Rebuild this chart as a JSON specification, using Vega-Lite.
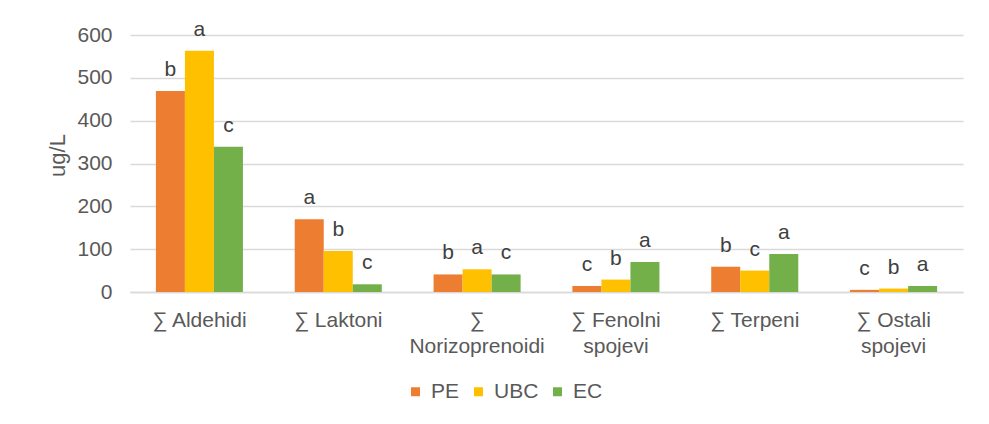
{
  "$schema": "https://vega.github.io/schema/vega-lite/v6.json",
  "width": 833,
  "height": 257,
  "autosize": {"type": "none"},
  "padding": {"left": 130, "top": 35, "right": 26, "bottom": 132},
  "background": "white",
  "config": {
    "font": "Liberation Sans",
    "view": {"stroke": null}
  },
  "data": {
    "values": [
      {"cat": "∑ Aldehidi", "grp": "PE", "val": 469, "sig": "b"},
      {"cat": "∑ Aldehidi", "grp": "UBC", "val": 563, "sig": "a"},
      {"cat": "∑ Aldehidi", "grp": "EC", "val": 339, "sig": "c"},
      {"cat": "∑ Laktoni", "grp": "PE", "val": 170, "sig": "a"},
      {"cat": "∑ Laktoni", "grp": "UBC", "val": 96, "sig": "b"},
      {"cat": "∑ Laktoni", "grp": "EC", "val": 18, "sig": "c"},
      {"cat": "∑|Norizoprenoidi", "grp": "PE", "val": 41, "sig": "b"},
      {"cat": "∑|Norizoprenoidi", "grp": "UBC", "val": 53, "sig": "a"},
      {"cat": "∑|Norizoprenoidi", "grp": "EC", "val": 41, "sig": "c"},
      {"cat": "∑ Fenolni|spojevi", "grp": "PE", "val": 14, "sig": "c"},
      {"cat": "∑ Fenolni|spojevi", "grp": "UBC", "val": 29, "sig": "b"},
      {"cat": "∑ Fenolni|spojevi", "grp": "EC", "val": 70, "sig": "a"},
      {"cat": "∑ Terpeni", "grp": "PE", "val": 59, "sig": "b"},
      {"cat": "∑ Terpeni", "grp": "UBC", "val": 50, "sig": "c"},
      {"cat": "∑ Terpeni", "grp": "EC", "val": 89, "sig": "a"},
      {"cat": "∑ Ostali|spojevi", "grp": "PE", "val": 5, "sig": "c"},
      {"cat": "∑ Ostali|spojevi", "grp": "UBC", "val": 8, "sig": "b"},
      {"cat": "∑ Ostali|spojevi", "grp": "EC", "val": 14, "sig": "a"}
    ]
  },
  "encoding": {
    "x": {
      "field": "cat",
      "type": "nominal",
      "sort": null,
      "scale": {"paddingInner": 0.373, "paddingOuter": 0.1865},
      "axis": {
        "title": null,
        "labelAngle": 0,
        "labelExpr": "split(datum.label, '|')",
        "labelFontSize": 21,
        "labelColor": "#595959",
        "labelPadding": 17,
        "labelLineHeight": 26,
        "ticks": false,
        "domainColor": "#d9d9d9",
        "domainWidth": 1.5
      }
    },
    "xOffset": {"field": "grp", "type": "nominal", "sort": ["PE", "UBC", "EC"]},
    "y": {
      "field": "val",
      "type": "quantitative",
      "scale": {"domain": [0, 600]},
      "axis": {
        "title": "ug/L",
        "values": [0, 100, 200, 300, 400, 500, 600],
        "titleFontSize": 22,
        "titleFontWeight": "normal",
        "titleColor": "#595959",
        "titleAngle": -90,
        "titleX": -73,
        "titleY": 120,
        "titleAlign": "center",
        "titleBaseline": "middle",
        "labelFontSize": 21,
        "labelColor": "#595959",
        "labelPadding": 18,
        "ticks": false,
        "domain": false,
        "gridColor": "#d9d9d9",
        "gridWidth": 1.5
      }
    }
  },
  "layer": [
    {
      "mark": {"type": "bar"},
      "encoding": {
        "color": {
          "field": "grp",
          "type": "nominal",
          "sort": ["PE", "UBC", "EC"],
          "scale": {"domain": ["PE", "UBC", "EC"], "range": ["#ED7D31", "#FFC000", "#74B04A"]},
          "legend": {
            "title": null,
            "orient": "none",
            "legendX": 275,
            "legendY": 346,
            "direction": "horizontal",
            "symbolType": "square",
            "symbolSize": 81,
            "symbolStrokeWidth": 0,
            "labelFontSize": 21,
            "labelColor": "#595959",
            "labelOffset": 5,
            "columnPadding": 8
          }
        }
      }
    },
    {
      "mark": {"type": "text", "baseline": "alphabetic", "dy": -15, "fontSize": 21, "color": "#404040"},
      "encoding": {"text": {"field": "sig"}}
    }
  ]
}
